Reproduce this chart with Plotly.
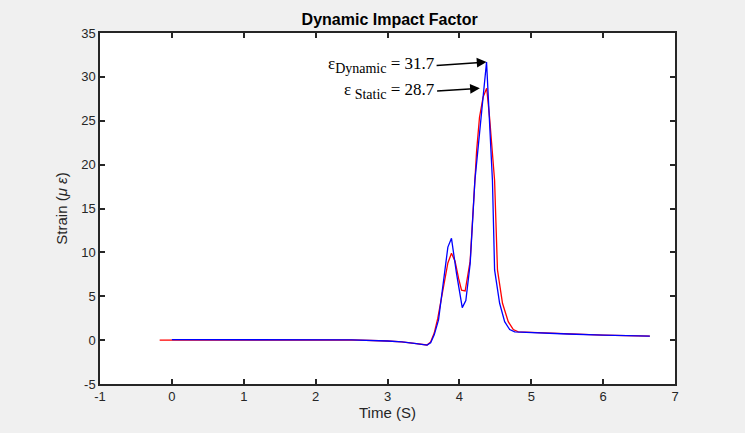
import plotly.graph_objects as go

# Static response (red)
t_static = [-0.17, 0.0, 0.5, 1.0, 1.5, 2.0, 2.5, 3.0, 3.2, 3.4, 3.5, 3.55, 3.6, 3.65, 3.70,
            3.77, 3.84, 3.89, 3.94, 3.99, 4.03, 4.08, 4.15, 4.24, 4.28, 4.33, 4.38, 4.42,
            4.46, 4.49, 4.53, 4.60, 4.68, 4.75, 4.82, 5.0, 5.5, 6.0, 6.65]
strain_static = [0.0, 0.0, 0.04, 0.06, 0.05, 0.05, 0.03, -0.1, -0.2, -0.4, -0.5, -0.55, -0.2,
                 0.8, 2.5, 5.8, 8.8, 9.9, 9.0, 7.0, 5.7, 5.6, 9.0, 21.6, 25.4, 27.7, 28.7,
                 25.4, 21.6, 18.2, 8.0, 4.2, 2.1, 1.2, 0.95, 0.88, 0.7, 0.58, 0.45]

# Dynamic response (blue)
t_dynamic = [0.0, 0.5, 1.0, 1.5, 2.0, 2.5, 3.0, 3.2, 3.4, 3.5, 3.55, 3.6, 3.65, 3.71, 3.77,
             3.84, 3.89, 3.96, 4.04, 4.09, 4.15, 4.19, 4.216, 4.378, 4.46, 4.49, 4.56, 4.63,
             4.70, 4.77, 5.0, 5.5, 6.0, 6.65]
strain_dynamic = [0.05, 0.05, 0.07, 0.06, 0.05, 0.03, -0.1, -0.2, -0.4, -0.5, -0.57, -0.3, 0.6,
                  2.3, 6.1, 10.6, 11.6, 7.6, 3.7, 4.5, 8.7, 13.7, 18.2, 31.7, 18.2, 8.0, 4.2,
                  2.1, 1.2, 0.95, 0.85, 0.7, 0.58, 0.45]

x_ticks = [-1, 0, 1, 2, 3, 4, 5, 6, 7]
x_tick_labels = ["-1", "0", "1", "2", "3", "4", "5", "6", "7"]
y_ticks = [-5, 0, 5, 10, 15, 20, 25, 30, 35]
y_tick_labels = ["-5", "0", "5", "10", "15", "20", "25", "30", "35"]

peak_dynamic = (4.378, 31.7)
peak_static = (4.285, 28.7)
label_dynamic_tail = (3.683, 31.3)
label_static_tail = (3.69, 28.4)

fig = go.Figure()
fig.add_trace(go.Scatter(x=t_static, y=strain_static, mode="lines",
                         line=dict(color="#ff0000", width=1.3), showlegend=False))
fig.add_trace(go.Scatter(x=t_dynamic, y=strain_dynamic, mode="lines",
                         line=dict(color="#0000ff", width=1.3), showlegend=False))

sans = "Arial, Liberation Sans, sans-serif"
axis_common = dict(showline=True, linecolor="#262626", linewidth=1.5, mirror="ticks",
                   ticks="inside", ticklen=5, tickwidth=1.5, tickcolor="#262626",
                   showgrid=False, zeroline=False,
                   tickfont=dict(family=sans, size=13, color="#262626"))

fig.update_xaxes(range=[-1, 7], tickvals=x_ticks, ticktext=x_tick_labels, **axis_common,
                 title=dict(text="Time (S)", font=dict(family=sans, size=15, color="#262626"),
                            standoff=4))
fig.update_yaxes(range=[-5, 35], tickvals=y_ticks, ticktext=y_tick_labels, **axis_common,
                 title=dict(text="Strain (<i>μ ε</i>)", font=dict(family=sans, size=15, color="#262626"),
                            standoff=10))

serif = dict(family="Times New Roman, Liberation Serif, serif", size=17, color="black")
sub = "<sub><span style='font-size:14px'>{}</span></sub>"

annotations = [
    dict(x=peak_dynamic[0], y=peak_dynamic[1], ax=label_dynamic_tail[0], ay=label_dynamic_tail[1],
         xref="x", yref="y", axref="x", ayref="y", xanchor="right", yanchor="middle",
         text="ε" + sub.format("Dynamic") + " = 31.7", font=serif,
         showarrow=True, arrowhead=2, arrowsize=1.3, arrowwidth=1.5, arrowcolor="black"),
    dict(x=peak_static[0], y=peak_static[1], ax=label_static_tail[0], ay=label_static_tail[1],
         xref="x", yref="y", axref="x", ayref="y", xanchor="right", yanchor="middle",
         text="ε" + sub.format(" Static") + " = 28.7", font=serif,
         showarrow=True, arrowhead=2, arrowsize=1.3, arrowwidth=1.5, arrowcolor="black"),
]

fig.update_layout(
    width=745, height=433,
    margin=dict(l=100, r=70, t=33, b=49),
    paper_bgcolor="#f0f0f0", plot_bgcolor="white",
    title=dict(text="<b>Dynamic Impact Factor</b>", x=0.523, xanchor="center", y=0.955,
               yanchor="middle", font=dict(family=sans, size=16, color="black")),
    annotations=annotations,
)

fig.write_html("out.html", config={"displayModeBar": False},
               post_script="document.body.style.margin='0';")
